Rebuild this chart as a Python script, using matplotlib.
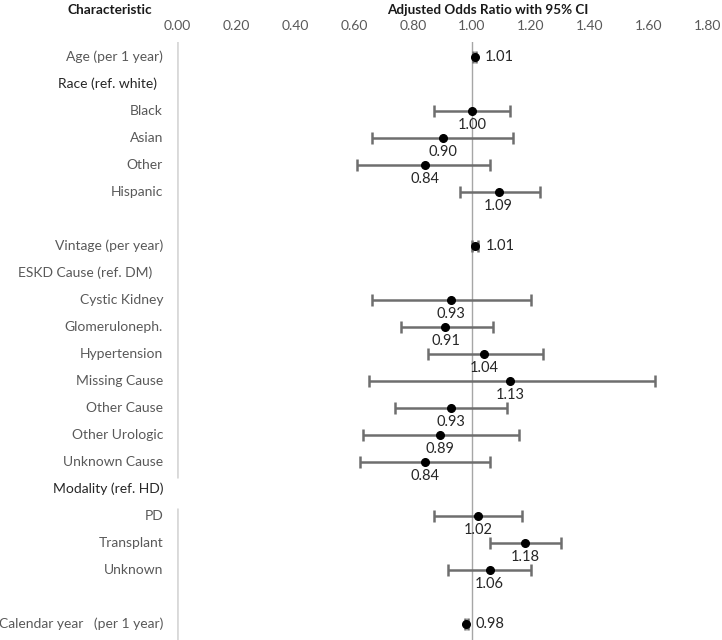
import numpy as np
import matplotlib.pyplot as plt

plt.rcParams['font.family'] = ['Lato', 'DejaVu Sans']

labels = ["Age (per 1 year)", "Race (ref. white)", "Black", "Asian", "Other",
          "Hispanic", "", "Vintage (per year)", "ESKD Cause (ref. DM)",
          "Cystic Kidney", "Glomeruloneph.", "Hypertension", "Missing Cause",
          "Other Cause", "Other Urologic", "Unknown Cause", "Modality (ref. HD)",
          "PD", "Transplant", "Unknown", "", "Calendar year   (per 1 year)"]
nan = np.nan
odds = [1.01, nan, 1.00, 0.90, 0.84, 1.09, nan, 1.01, nan, 0.93, 0.91, 1.04,
        1.13, 0.93, 0.89, 0.84, nan, 1.02, 1.18, 1.06, nan, 0.98]
ci_low = [1.005, nan, 0.87, 0.66, 0.61, 0.96, nan, 1.00, nan, 0.66, 0.76, 0.85,
          0.65, 0.74, 0.63, 0.62, nan, 0.87, 1.06, 0.92, nan, 0.975]
ci_high = [1.015, nan, 1.13, 1.14, 1.06, 1.23, nan, 1.02, nan, 1.20, 1.07, 1.24,
           1.62, 1.12, 1.16, 1.06, nan, 1.17, 1.30, 1.20, nan, 0.985]
xticks = [0.0, 0.2, 0.4, 0.6, 0.8, 1.0, 1.2, 1.4, 1.6, 1.8]

headers = {"Race (ref. white)": (-14.5, '#262626'),
           "ESKD Cause (ref. DM)": (-18, '#595959'),
           "Modality (ref. HD)": (-9.5, '#262626')}
side_labels = {"Age (per 1 year)", "Vintage (per year)", "Calendar year   (per 1 year)"}

fig = plt.figure(figsize=(7.22, 6.40), dpi=100)
ax = fig.add_axes([177 / 722, 0, 531 / 722, 1 - 42 / 640])

rows = np.arange(len(labels))
odds = np.array(odds)
lo = np.array(ci_low)
hi = np.array(ci_high)

# reference line and split left axis line
ax.axvline(1.0, color='#a6a6a6', lw=1, zorder=1)
ax.vlines(0, -0.6, 15.6, color='#d9d9d9', lw=2)
ax.vlines(0, 16.7, 21.6, color='#d9d9d9', lw=2)

m = ~np.isnan(odds)
ax.errorbar(odds[m], rows[m], xerr=[odds[m] - lo[m], hi[m] - odds[m]],
            fmt='o', color='black', ms=5.5, ecolor='#6e6e6e', elinewidth=1.8,
            capsize=4, capthick=1.8, zorder=3)

for r, lab in enumerate(labels):
    if lab in headers:
        off, col = headers[lab]
        ax.annotate(lab, (0, r), xytext=(off, 0), textcoords='offset points',
                    ha='right', va='center', fontsize=10, color=col)
    elif lab:
        ax.annotate(lab, (0, r), xytext=(-10, 0), textcoords='offset points',
                    ha='right', va='center', fontsize=10, color='#595959')
    if m[r]:
        if lab in side_labels:
            ax.annotate(f"{odds[r]:.2f}", (hi[r], r), xytext=(6, 0),
                        textcoords='offset points', ha='left', va='center',
                        fontsize=10.5, color='#262626')
        else:
            ax.annotate(f"{odds[r]:.2f}", (odds[r], r), xytext=(0, -10),
                        textcoords='offset points', ha='center', va='center',
                        fontsize=10.5, color='#262626')

ax.set_xlim(0, 1.8)
ax.set_ylim(21.6, -0.56)
ax.set_xticks(xticks)
ax.set_xticklabels([f"{t:.2f}" for t in xticks])
ax.xaxis.tick_top()
ax.tick_params(axis='x', length=0, pad=7, labelsize=10, labelcolor='#595959')
ax.set_yticks([])
for s in ax.spines.values():
    s.set_visible(False)

fig.text(67 / 722, 1 - 10 / 640, "Characteristic", fontsize=9.8, fontweight='bold',
         ha='left', va='center', color='#1a1a1a')
fig.text(488 / 722, 1 - 10 / 640, "Adjusted Odds Ratio with 95% CI", fontsize=9.7,
         fontweight='bold', ha='center', va='center', color='#1a1a1a')

fig.savefig('out.png', dpi=100)
